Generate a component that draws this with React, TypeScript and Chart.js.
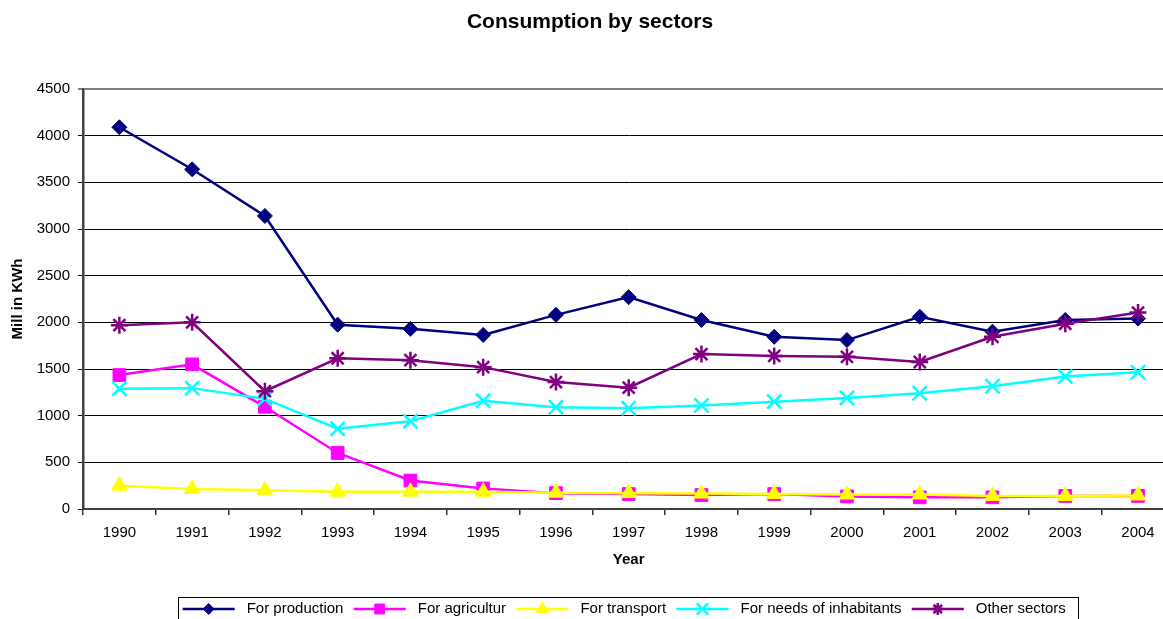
import React, { useEffect, useRef } from "react";
import { Chart, registerables } from "chart.js";

Chart.register(...registerables);

const years = ["1990", "1991", "1992", "1993", "1994", "1995", "1996", "1997", "1998", "1999", "2000", "2001", "2002", "2003", "2004"];
const production = [4090, 3640, 3140, 1975, 1930, 1865, 2080, 2270, 2025, 1845, 1810, 2060, 1900, 2025, 2040];
const agricultur = [1435, 1550, 1095, 600, 305, 220, 170, 160, 150, 160, 135, 125, 125, 140, 140];
const transport = [250, 215, 200, 185, 185, 185, 175, 170, 165, 160, 155, 155, 140, 140, 145];
const inhabitants = [1288, 1295, 1180, 860, 940, 1160, 1090, 1080, 1110, 1150, 1190, 1240, 1315, 1420, 1465];
const other = [1970, 2000, 1262, 1615, 1595, 1520, 1360, 1300, 1660, 1640, 1630, 1575, 1845, 1985, 2105];

const seriesNames = ["For production", "For agricultur", "For transport", "For needs of inhabitants", "Other sectors"];
const seriesColors = ["#000080", "#FF00FF", "#FFFF00", "#00FFFF", "#800080"];
const seriesStyles = ["rectRot", "rect", "triangle", "crossRot", "star"];
const seriesRadius = [7.5, 9, 9, 10, 8.5];

const FONT = "'Liberation Sans', Arial, sans-serif";

function drawMarker(ctx: CanvasRenderingContext2D, style: string, x: number, y: number, r: number, filled: boolean) {
  ctx.beginPath();
  if (style === "rectRot") {
    ctx.moveTo(x - r, y);
    ctx.lineTo(x, y - r);
    ctx.lineTo(x + r, y);
    ctx.lineTo(x, y + r);
    ctx.closePath();
  } else if (style === "rect") {
    const s = r * Math.SQRT1_2;
    ctx.rect(x - s, y - s, 2 * s, 2 * s);
  } else if (style === "triangle") {
    ctx.moveTo(x, y - r);
    ctx.lineTo(x + r * 0.866, y + r * 0.5);
    ctx.lineTo(x - r * 0.866, y + r * 0.5);
    ctx.closePath();
  } else if (style === "crossRot") {
    const s = r * Math.SQRT1_2;
    ctx.moveTo(x - s, y - s);
    ctx.lineTo(x + s, y + s);
    ctx.moveTo(x + s, y - s);
    ctx.lineTo(x - s, y + s);
  } else if (style === "star") {
    const s = r * Math.SQRT1_2;
    ctx.moveTo(x - s, y - s);
    ctx.lineTo(x + s, y + s);
    ctx.moveTo(x + s, y - s);
    ctx.lineTo(x - s, y + s);
    ctx.moveTo(x, y - r);
    ctx.lineTo(x, y + r);
    ctx.moveTo(x - r, y);
    ctx.lineTo(x + r, y);
  }
  if (filled) {
    ctx.fill();
    ctx.stroke();
  } else {
    ctx.stroke();
  }
}

const legendPlugin = {
  id: "customLegend",
  afterDraw(chart: any) {
    const ctx = chart.ctx;
    ctx.save();
    ctx.strokeStyle = "#000";
    ctx.lineWidth = 1;
    ctx.strokeRect(178.5, 597.5, 900, 30);
    ctx.font = `15px ${FONT}`;
    ctx.textBaseline = "middle";
    ctx.textAlign = "left";
    const y = 609;
    let x = 182.7;
    chart.data.datasets.forEach((ds: any, i: number) => {
      ctx.strokeStyle = ds.borderColor;
      ctx.lineWidth = 2.5;
      ctx.beginPath();
      ctx.moveTo(x, y);
      ctx.lineTo(x + 52, y);
      ctx.stroke();
      const style = ds.pointStyle;
      const filled = style === "rectRot" || style === "rect" || style === "triangle";
      ctx.fillStyle = ds.borderColor;
      ctx.lineWidth = filled ? 1 : 2.5;
      const r = style === "rectRot" ? 5.5 : style === "rect" ? 7 : style === "triangle" ? 7 : style === "crossRot" ? 8 : 6;
      drawMarker(ctx, style, x + 26, y, r, filled);
      ctx.fillStyle = "#000";
      ctx.fillText(seriesNames[i], x + 64, y);
      const w = ctx.measureText(seriesNames[i]).width;
      x = x + 64 + w + 10.3;
    });
    ctx.restore();
  },
};

export default function App() {
  const canvasRef = useRef<HTMLCanvasElement | null>(null);

  useEffect(() => {
    const canvas = canvasRef.current;
    if (!canvas) return;
    const values = [production, agricultur, transport, inhabitants, other];
    const chart = new Chart(canvas, {
      type: "line",
      data: {
        labels: years,
        datasets: values.map((v, i) => ({
          label: seriesNames[i],
          data: v,
          yAxisID: "y",
          borderColor: seriesColors[i],
          backgroundColor: seriesColors[i],
          pointBackgroundColor: seriesColors[i],
          pointBorderColor: seriesColors[i],
          pointStyle: seriesStyles[i] as any,
          pointRadius: seriesRadius[i],
          pointBorderWidth: i >= 3 ? 2.5 : 1,
          borderWidth: 2.5,
          tension: 0,
          fill: false,
          clip: false,
          order: 5 - i,
        })),
      },
      options: {
        responsive: false,
        animation: false,
        events: [],
        layout: { autoPadding: false, padding: { left: 0, right: 0, top: 0, bottom: 0 } },
        plugins: {
          legend: { display: false },
          tooltip: { enabled: false },
          title: {
            display: true,
            text: "Consumption by sectors",
            color: "#000",
            font: { family: FONT, size: 21, weight: "bold" },
            padding: { top: 9.4, bottom: 54.4 },
          },
        },
        scales: {
          x: {
            type: "category",
            offset: true,
            grid: {
              offset: true,
              drawOnChartArea: false,
              drawTicks: true,
              tickLength: 6,
              color: "#333",
              lineWidth: 1.5,
            },
            border: { display: true, color: "#404040", width: 2 },
            ticks: {
              color: "#000",
              font: { family: FONT, size: 15 },
              padding: 8.8,
              maxRotation: 0,
              autoSkip: false,
            },
            title: {
              display: true,
              text: "Year",
              color: "#000",
              font: { family: FONT, size: 15, weight: "bold" },
              padding: { top: 0, bottom: 71 },
            },
            afterFit: (scale: any) => {
              scale.height = 131;
              scale.paddingLeft = 0;
              scale.paddingRight = 0;
            },
          },
          y: {
            min: 0,
            max: 4500,
            ticks: {
              stepSize: 500,
              color: "#000",
              font: { family: FONT, size: 15 },
              padding: 8,
              callback: (value: any) => String(value),
            },
            grid: {
              drawTicks: true,
              tickLength: 5,
              color: (c: any) => (c.tick && c.tick.value === 4500 ? "#808080" : "#000"),
              lineWidth: (c: any) => (c.tick && c.tick.value === 4500 ? 2 : 1),
            },
            border: { display: true, color: "#404040", width: 2.5 },
            title: {
              display: true,
              text: "Mill in KWh",
              color: "#000",
              font: { family: FONT, size: 15, weight: "bold" },
              padding: { top: 9, bottom: 0 },
            },
            afterFit: (scale: any) => {
              scale.width = 83;
            },
          },
          yRight: {
            position: "right",
            display: true,
            min: 0,
            max: 4500,
            grid: { display: false, drawOnChartArea: false, drawTicks: false },
            border: { display: false },
            ticks: { display: false },
            afterFit: (scale: any) => {
              scale.width = 5.6;
            },
          },
        },
      },
      plugins: [legendPlugin],
    });
    return () => chart.destroy();
  }, []);

  return (
    <div
      style={{
        position: "fixed",
        left: 0,
        top: 0,
        width: 1163,
        height: 619,
        overflow: "hidden",
        background: "#fff",
      }}
    >
      <canvas ref={canvasRef} width={1180} height={640} style={{ width: 1180, height: 640, display: "block" }} />
    </div>
  );
}
